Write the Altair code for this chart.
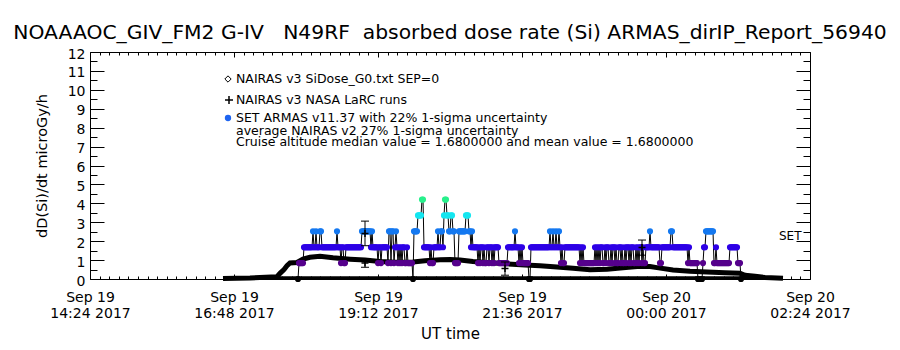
import altair as alt
import pandas as pd

# ---------------- data ----------------
title_text = ("NOAAAOC_GIV_FM2 G-IV\u00a0\u00a0\u00a0N49RF\u00a0\u00a0absorbed dose rate (Si) "
              "ARMAS_dirIP_Report_56940")
x_title = "UT time"
y_title = "dD(Si)/dt microGy/h"

axis_start = "2017-09-19 14:24"
axis_end = "2017-09-20 02:24"
major_step_ms = 144 * 60000          # 2 h 24 min
minor_step_ms = 576000               # 9.6 min
y_major = list(range(0, 13))
y_minor = [i / 2 for i in range(0, 25)]

# ARMAS: one sample per minute starting at armas_start, each char = dose level index
armas_start = "2017-09-19 17:52"
armas_levels = [
    "0111112222", "2222232232", "2233222222", "2222222223", "2221221122",
    "2222222222", "2222333333", "3332322222", "1221222222", "1331331232",
    "1212122112", "1111103333", "4444552222", "2212112222", "3223324554",
    "4334433111", "1333333344", "4332322222", "1212212112", "2122121222",
    "2111111111", "2222222322", "2121211111", "1002222222", "2222222222",
    "2232232232", "2321211222", "2222222222", "2212121111", "1111111212",
    "1212211212", "2112122121", "1221211212", "2121221121", "2122121122",
    "2232222222", "2211222222", "2223322222", "2222222222", "1211111111",
    "0000012233", "3333331121", "1111111111", "1122222222", "1110",
]
dose_levels = [0.0, 0.84, 1.68, 2.52, 3.36, 4.20]
level_colors = ["#000000", "#55008C", "#2D00E6", "#1478F0", "#14E6F0", "#28F08C"]

# NAIRAS v3 SiDose (thick black curve)
nairas_time = [
    "2017-09-19 16:37", "2017-09-19 17:04", "2017-09-19 17:31", "2017-09-19 17:34",
    "2017-09-19 17:38", "2017-09-19 17:41", "2017-09-19 17:44", "2017-09-19 17:51",
    "2017-09-19 17:57", "2017-09-19 18:04", "2017-09-19 18:14", "2017-09-19 18:27",
    "2017-09-19 18:44", "2017-09-19 18:59", "2017-09-19 19:14", "2017-09-19 19:29",
    "2017-09-19 19:47", "2017-09-19 19:59", "2017-09-19 20:14", "2017-09-19 20:24",
    "2017-09-19 20:34", "2017-09-19 20:47", "2017-09-19 21:04", "2017-09-19 21:21",
    "2017-09-19 21:39", "2017-09-19 21:54", "2017-09-19 22:11", "2017-09-19 22:27",
    "2017-09-19 22:44", "2017-09-19 23:01", "2017-09-19 23:17", "2017-09-19 23:34",
    "2017-09-19 23:44", "2017-09-19 23:51", "2017-09-20 00:07", "2017-09-20 00:24",
    "2017-09-20 00:41", "2017-09-20 00:59", "2017-09-20 01:14", "2017-09-20 01:19",
    "2017-09-20 01:29", "2017-09-20 01:39", "2017-09-20 01:57",
]
nairas_dose = [
    0.02, 0.05, 0.12, 0.30, 0.50, 0.70, 0.85, 0.87, 1.05, 1.15, 1.20, 1.12,
    1.05, 1.00, 0.93, 0.88, 0.90, 0.97, 1.02, 1.03, 1.00, 0.92, 0.86, 0.80,
    0.74, 0.70, 0.64, 0.57, 0.49, 0.52, 0.60, 0.68, 0.66, 0.60, 0.48, 0.41,
    0.37, 0.33, 0.30, 0.20, 0.14, 0.08, 0.04,
]

# ground-level trace along the bottom
zero_time = ["2017-09-19 16:37", "2017-09-20 01:57"]
zero_dose = [0.06, 0.06]

# NAIRAS v3 NASA LaRC runs (plus with error bar)
larc_time = ["2017-09-19 18:59", "2017-09-19 18:59", "2017-09-19 21:19", "2017-09-19 23:36"]
larc_dose = [2.41, 0.85, 0.55, 1.66]
larc_err = [0.65, 0.23, 0.35, 0.40]

legend_texts = [
    "NAIRAS v3 SiDose_G0.txt SEP=0",
    "NAIRAS v3 NASA LaRC runs",
    "SET ARMAS v11.37 with 22% 1-sigma uncertainty",
    "average NAIRAS v2 27% 1-sigma uncertainty",
    "Cruise altitude median value = 1.6800000 and mean value = 1.6800000",
]
side_text = "SET"

# ---------------- helpers ----------------
W, H = 720, 227
FONT = "DejaVu Sans"


def to_ms(s):
    return int(pd.Timestamp(s, tz="UTC").value // 1_000_000)


t0, t1 = to_ms(axis_start), to_ms(axis_end)
major_ms = list(range(t0, t1 + 1, major_step_ms))
minor_ms = list(range(t0, t1 + 1, minor_step_ms))

codes = "".join(armas_levels)
a0 = to_ms(armas_start)
armas = pd.DataFrame({
    "t": [a0 + i * 60000 for i in range(len(codes))],
    "dose": [dose_levels[int(c)] for c in codes],
    "level": [int(c) for c in codes],
})
nairas = pd.DataFrame({"t": [to_ms(s) for s in nairas_time], "dose": nairas_dose})
zero = pd.DataFrame({"t": [to_ms(s) for s in zero_time], "dose": zero_dose})
larc = pd.DataFrame({"t": [to_ms(s) for s in larc_time], "dose": larc_dose, "err": larc_err})
larc["lo"] = larc["dose"] - larc["err"]
larc["hi"] = larc["dose"] + larc["err"]

xscale = alt.Scale(type="utc", domain=[t0, t1], nice=False)
yscale = alt.Scale(domain=[0, 12], nice=False, zero=False)

x_major_test = f"(toNumber(datum.value) - {t0}) % {major_step_ms} === 0"
y_major_test = "datum.value % 1 === 0"

common_tick = dict(grid=False, labels=False, title=None, domain=True, domainColor="black",
                   tickColor="black", domainWidth=1, tickWidth=1)

# axis set 1: labels + titles
xa1 = alt.Axis(orient="bottom", values=major_ms, ticks=False, domain=False, grid=False,
               labelExpr="[utcFormat(datum.value, '%b %d'), utcFormat(datum.value, '%H:%M %Y')]",
               labelFont=FONT, labelFontSize=14, labelColor="black", labelPadding=11,
               labelLineHeight=16, labelOverlap=False, labelFlush=False,
               title=x_title, titleFont=FONT, titleFontSize=15, titleFontWeight="normal",
               titleColor="black", titlePadding=6)
ya1 = alt.Axis(orient="left", values=y_major, ticks=False, domain=False, grid=False,
               labelFont=FONT, labelFontSize=14, labelColor="black", labelPadding=5,
               labelOffset=2, labelOverlap=False, labelFlush=False,
               title=y_title, titleFont=FONT, titleFontSize=14.5, titleFontWeight="normal",
               titleColor="black", titlePadding=18)
# axis set 2: inward ticks on bottom and left
xa2 = alt.Axis(orient="top", offset=-H, values=minor_ms,
               tickSize={"condition": {"test": x_major_test, "value": 5}, "value": 3}, **common_tick)
ya2 = alt.Axis(orient="right", offset=-W, values=y_minor,
               tickSize={"condition": {"test": y_major_test, "value": 14}, "value": 7}, **common_tick)
# axis set 3: inward ticks on top and right
xa3 = alt.Axis(orient="bottom", offset=-H, values=minor_ms,
               tickSize={"condition": {"test": x_major_test, "value": 5}, "value": 3}, **common_tick)
ya3 = alt.Axis(orient="left", offset=-W, values=y_minor,
               tickSize={"condition": {"test": y_major_test, "value": 14}, "value": 7}, **common_tick)


def X(axis, field="t"):
    return alt.X(f"{field}:T", scale=xscale, axis=axis)


def Y(axis, field="dose"):
    return alt.Y(f"{field}:Q", scale=yscale, axis=axis)


zero_layer = alt.Chart(zero).mark_line(color="black", strokeWidth=3).encode(
    x=X(xa1), y=Y(ya1))
nairas_layer = alt.Chart(nairas).mark_line(color="black", strokeWidth=5).encode(
    x=X(xa2), y=Y(ya2))
armas_line = alt.Chart(armas).mark_line(color="black", strokeWidth=1).encode(
    x=X(xa3), y=Y(ya3))
armas_dots = alt.Chart(armas).mark_point(filled=True, shape="circle", size=38, opacity=1).encode(
    x=X(None), y=Y(None),
    color=alt.Color("level:O", scale=alt.Scale(domain=list(range(6)), range=level_colors), legend=None))

err_rule = alt.Chart(larc).mark_rule(color="black", strokeWidth=1).encode(
    x=X(None), y=Y(None, "lo"), y2="hi:Q")
cap = "M-1,0L1,0"
plus = "M-1,0L1,0M0,-1L0,1"
err_lo = alt.Chart(larc).mark_point(shape=cap, size=64, color="black", strokeWidth=1, opacity=1).encode(
    x=X(None), y=Y(None, "lo"))
err_hi = alt.Chart(larc).mark_point(shape=cap, size=64, color="black", strokeWidth=1, opacity=1).encode(
    x=X(None), y=Y(None, "hi"))
err_plus = alt.Chart(larc).mark_point(shape=plus, size=49, color="black", strokeWidth=1.5, opacity=1).encode(
    x=X(None), y=Y(None))

# in-plot legend (pixel layout inside the plot area)
lx_sym, lx_txt = 138, 146
ly = [27, 48, 66, 79, 90]
leg = []
leg.append(alt.Chart().mark_point(shape="diamond", size=40, filled=False, color="black",
                                  strokeWidth=1, opacity=1).encode(
    x=alt.value(lx_sym), y=alt.value(ly[0])))
leg.append(alt.Chart().mark_point(shape=plus, size=64, color="black", strokeWidth=1.5, opacity=1).encode(
    x=alt.value(lx_sym + 1), y=alt.value(ly[1])))
leg.append(alt.Chart().mark_point(shape="circle", size=40, filled=True, color="#1E64F0", opacity=1).encode(
    x=alt.value(lx_sym), y=alt.value(ly[2])))
for txt, yy in zip(legend_texts, ly):
    leg.append(alt.Chart().mark_text(text=txt, align="left", baseline="middle", font=FONT,
                                     fontSize=12.5, color="black").encode(
        x=alt.value(lx_txt), y=alt.value(yy)))
leg.append(alt.Chart().mark_text(text=side_text, align="left", baseline="middle", font=FONT,
                                 fontSize=12, color="black").encode(
    x=alt.value(689), y=alt.value(184)))

chart = alt.layer(
    zero_layer, nairas_layer, armas_line, armas_dots,
    err_rule, err_lo, err_hi, err_plus, *leg,
).resolve_axis(x="independent", y="independent").properties(
    width=W, height=H,
    title=alt.TitleParams(title_text, font=FONT, fontSize=20.3, fontWeight="normal",
                          color="black", anchor="middle", frame="group", offset=4),
    autosize=alt.AutoSizeParams(type="none"),
    padding={"left": 90, "top": 52, "right": 90, "bottom": 71},
    background="white",
).configure_view(stroke=None)

chart.save("out.html", embed_options={"renderer": "svg", "actions": False})
